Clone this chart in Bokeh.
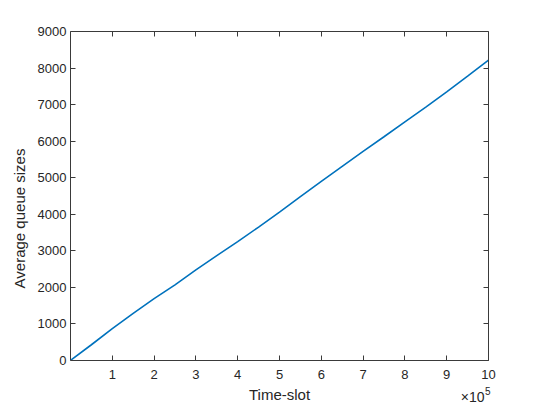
from bokeh.plotting import figure
from bokeh.models import FixedTicker, LinearAxis, Label, CustomJSTickFormatter, Range1d
from bokeh.embed import file_html
from bokeh.resources import INLINE

# Data (time-slot, average queue size)
time_slot = [0, 50000, 100000, 150000, 200000, 250000, 300000, 350000, 400000,
             450000, 500000, 550000, 600000, 650000, 700000, 750000, 800000,
             850000, 900000, 950000, 1000000]
avg_queue = [0, 430, 870, 1290, 1690, 2070, 2480, 2870, 3250,
             3650, 4060, 4480, 4900, 5310, 5720, 6120, 6530,
             6930, 7350, 7780, 8220]

x_ticks = [100000 * i for i in range(1, 11)]
y_ticks = [1000 * i for i in range(0, 10)]

FONT = "Liberation Sans"
TXT = "#262626"
AX = "#3a3a3a"

# the visible axes box is x 0..1e6, y 0..9000; the frame runs on to the canvas edges
X_MAX = 1000000
X_END = 1124400
Y_TOP = 9000
Y_BOTTOM = -1232

p = figure(width=540, height=405, output_backend="svg", toolbar_location=None,
           x_range=Range1d(0, X_END), y_range=Range1d(Y_BOTTOM, Y_TOP),
           min_border_left=70, min_border_right=0, min_border_top=31, min_border_bottom=0,
           x_axis_type=None, y_axis_type=None)
p.outline_line_color = None
p.xgrid.visible = False
p.ygrid.visible = False

p.line(time_slot, avg_queue, line_color="#0072BD", line_width=1.6)

fmt = CustomJSTickFormatter(code="return (tick/100000).toFixed(0);")
blank = CustomJSTickFormatter(code="return '';")

def style(ax):
    ax.axis_line_color = AX
    ax.axis_line_width = 1
    ax.major_tick_line_color = AX
    ax.major_tick_in = 5
    ax.major_tick_out = 0
    ax.minor_tick_line_color = None
    ax.major_label_text_font = FONT
    ax.major_label_text_color = TXT
    ax.major_label_text_font_size = "13px"

xb = LinearAxis(ticker=FixedTicker(ticks=x_ticks), formatter=fmt,
                fixed_location=0, bounds=(0, X_MAX))
style(xb)
xb.major_label_standoff = 10
p.add_layout(xb, "below")

xt = LinearAxis(ticker=FixedTicker(ticks=x_ticks), formatter=blank, bounds=(0, X_MAX))
style(xt)
xt.major_label_standoff = 0
p.add_layout(xt, "above")

yl = LinearAxis(ticker=FixedTicker(ticks=y_ticks), bounds=(0, Y_TOP))
style(yl)
yl.major_label_standoff = 4
yl.axis_label = "Average queue sizes"
yl.axis_label_text_font = FONT
yl.axis_label_text_font_size = "15px"
yl.axis_label_text_font_style = "normal"
yl.axis_label_text_color = TXT
yl.axis_label_standoff = 7
p.add_layout(yl, "left")

yr = LinearAxis(ticker=FixedTicker(ticks=y_ticks), formatter=blank,
                fixed_location=X_MAX, bounds=(0, Y_TOP))
style(yr)
yr.major_label_standoff = 0
p.add_layout(yr, "right")

p.add_layout(Label(x=500000, y=-938, text="Time-slot", text_font=FONT,
                   text_font_size="15px", text_color=TXT, text_align="center",
                   text_baseline="middle"))
p.add_layout(Label(x=990400, y=-1010, text="\u00d710", text_font=FONT,
                   text_font_size="14px", text_color=TXT, text_align="right",
                   text_baseline="middle"))
p.add_layout(Label(x=991600, y=-835, text="5", text_font=FONT,
                   text_font_size="10px", text_color=TXT, text_align="left",
                   text_baseline="middle"))

open("out.html", "w").write(file_html(p, INLINE))
